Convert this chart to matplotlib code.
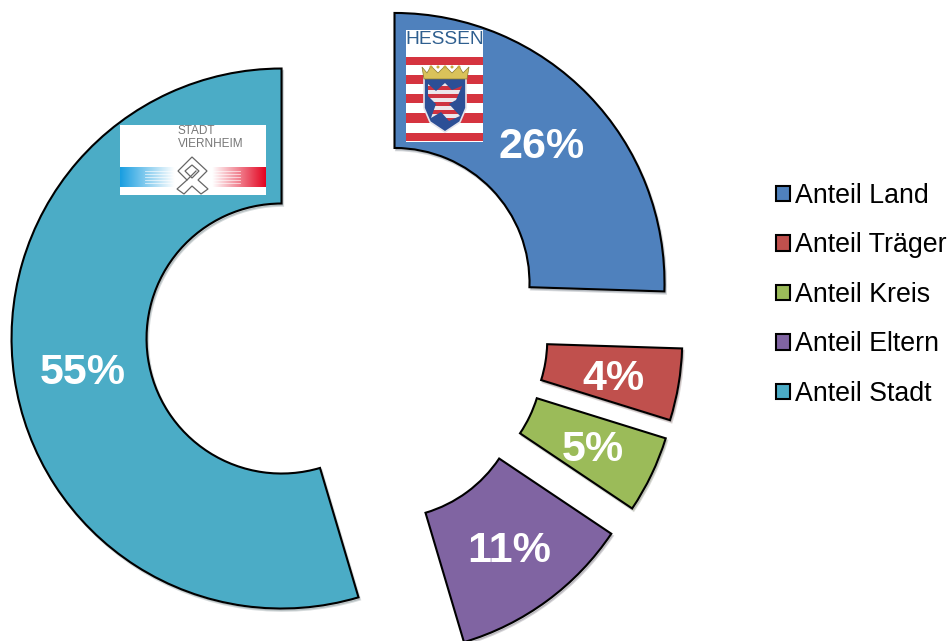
import numpy as np
import matplotlib
matplotlib.use("Agg")
import matplotlib.pyplot as plt
from matplotlib.patches import Rectangle, Polygon, Circle

plt.rcParams['font.family'] = ['Liberation Sans', 'DejaVu Sans']

labels = ["Anteil Land", "Anteil Träger", "Anteil Kreis", "Anteil Eltern", "Anteil Stadt"]
shares = [25.5, 4.3, 4.6, 11.0, 54.6]
colors = ["#4f81bd", "#c0504d", "#9bbb59", "#8064a2", "#4bacc6"]
explode = [0.245, 0.245, 0.25, 0.25, 0.245]

W, H = 950, 641
CX, CY, R = 347, 329, 270

fig = plt.figure(figsize=(W / 100, H / 100), dpi=100)
ax = fig.add_axes([0, 0, 1, 1])
wedges, texts, pcts = ax.pie(shares, colors=colors, explode=explode, startangle=90,
                             counterclock=False, radius=1, autopct="%.0f%%", pctdistance=0.75,
                             shadow=dict(ox=0.004, oy=-0.006, alpha=0.18),
                             wedgeprops=dict(width=0.5, edgecolor="black", linewidth=1.5),
                             textprops=dict(color="white", fontsize=31, fontweight="bold"))
# labels sit a little lower than the slice centre
for t in pcts:
    x, y = t.get_position()
    t.set_position((x + 2 / R, y - 5 / R))
ax.set_xlim(-CX / R, (W - CX) / R)
ax.set_ylim((CY - H) / R, CY / R)
ax.set_aspect("equal")

ax.legend(wedges, labels, loc="upper left", bbox_to_anchor=(776 / W, 1 - 183 / H),
          bbox_transform=fig.transFigure, frameon=False, fontsize=19.3,
          handlelength=0.52, handleheight=0.52, handletextpad=0.2, labelspacing=0.875,
          borderpad=0, borderaxespad=0)

# logos, drawn on a pixel overlay
ov = fig.add_axes([0, 0, 1, 1], facecolor="none")
ov.axis("off")

# Hessen logo
ov.add_patch(Rectangle((406, 30), 77, 112, fc="white", ec="none", zorder=1))
for y0, y1 in [(57, 65), (75, 84), (94, 103), (113, 123), (133, 141)]:
    ov.add_patch(Rectangle((406, y0), 77, y1 - y0, fc="#d5343f", ec="none", zorder=2))
ov.text(444.5, 40, "HESSEN", ha="center", va="center", color="#2f5f8f", fontsize=13.8, zorder=3)
shield = Polygon([(424, 78), (466, 78), (466, 108), (460, 122), (445, 132), (430, 122), (424, 108)],
                 fc="#2c4f96", ec="#e4e4ec", lw=1.2, zorder=3)
ov.add_patch(shield)
ov.add_patch(Polygon([(422, 67), (427, 73), (431, 66), (438, 73), (445, 66), (452, 73), (459, 66),
                      (463, 73), (469, 67), (467, 79), (424, 79)],
                     fc="#d9c25a", ec="#8a7a30", lw=0.5, zorder=4))
for x0 in [431, 438, 445, 452, 459]:
    ov.add_patch(Circle((x0, 67), 1.5, fc="#c9a93c", ec="none", zorder=4))
lion = Polygon([(428, 84), (436, 91), (445, 83), (452, 90), (462, 86), (456, 100), (449, 104),
                (460, 116), (449, 121), (441, 112), (431, 118), (436, 104), (428, 96)],
               fc="none", ec="none", zorder=5)
ov.add_patch(lion)
for y0 in np.arange(82, 122, 8):
    for y, c in [(y0, "#ece6ea"), (y0 + 4, "#cf3340")]:
        stripe = Rectangle((424, y), 42, 4, fc=c, ec="none", zorder=5)
        ov.add_patch(stripe)
        stripe.set_clip_path(lion)

# Stadt Viernheim logo
ov.add_patch(Rectangle((120, 125), 146, 70, fc="white", ec="none", zorder=1))
ramp = np.linspace(0, 1, 60)[None, :, None]
blue = np.array([0.10, 0.62, 0.88])[None, None, :]
red = np.array([0.89, 0.02, 0.13])[None, None, :]
left = blue * (1 - ramp) + ramp
right = red * (1 - ramp[:, ::-1]) + ramp[:, ::-1]
ov.imshow(left, extent=(120, 175, 187, 167), aspect="auto", zorder=2)
ov.imshow(right, extent=(212, 266, 187, 167), aspect="auto", zorder=2)
for y in np.arange(171, 186, 3):
    ov.plot([145, 176], [y, y], color="white", lw=0.6, alpha=0.7, zorder=3)
    ov.plot([212, 240], [y, y], color="white", lw=0.6, alpha=0.7, zorder=3)
ov.text(178, 131, "STADT", ha="left", va="center", color="#777777", fontsize=8.5, zorder=3)
ov.text(178, 144, "VIERNHEIM", ha="left", va="center", color="#777777", fontsize=8.5, zorder=3)
ov.add_patch(Polygon([(192, 157), (207, 171), (198, 180), (208, 189), (201, 194), (192, 186),
                      (184, 194), (177, 189), (187, 180), (178, 171)],
                     fc="white", ec="#666666", lw=0.9, zorder=4))
ov.add_patch(Polygon([(192, 165), (199, 171), (192, 178), (185, 171)],
                     fc="white", ec="#666666", lw=0.9, zorder=5))
ov.plot([187, 196], [180, 171], color="#666666", lw=0.9, zorder=5)

ov.set_xlim(0, W)
ov.set_ylim(H, 0)

fig.savefig("out.png", dpi=100)
